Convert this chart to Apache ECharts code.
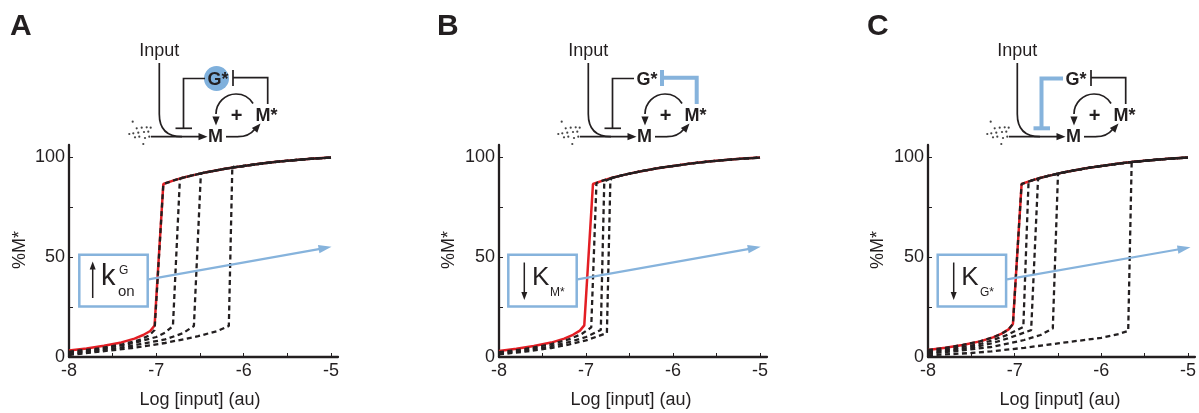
<!DOCTYPE html>
<html><head><meta charset="utf-8">
<script src="https://cdn.jsdelivr.net/npm/echarts@6/dist/echarts.min.js"></script>
<style>html,body{margin:0;padding:0;background:#fff}#c{width:1199px;height:413px}</style>
</head><body><div id="c"></div>
<script>
// ---------- data ----------
const xTickLabels = [-8, -7, -6, -5];
const yTickLabels = [0, 50, 100];
const panelLetters = ['A', 'B', 'C'];
const xTitle = 'Log [input] (au)';
const yTitle = '%M*';

// shared upper (high M*) branch
const upperBranch = [[-6.92,86.5],[-6.8,88.3],[-6.7,89.6],[-6.6,90.7],[-6.5,91.7],[-6.4,92.6],[-6.3,93.4],[-6.2,94.2],[-6.1,94.9],[-6.0,95.5],[-5.8,96.7],[-5.6,97.7],[-5.4,98.5],[-5.2,99.2],[-5.0,99.7]];

// Panel A (increase k_on^G)
const redA_low = [[-8,3.3],[-7.8,4.3],[-7.6,5.6],[-7.4,7.3],[-7.25,9.2],[-7.15,11],[-7.07,13],[-7.02,15.8]];
const redA_top = [-6.92,86.5];
const dA1_low = [[-8,2.7],[-7.7,4.0],[-7.4,6.2],[-7.2,8.4],[-7.08,10.8],[-7.02,13.5]];
const dA1_top = [-6.92,86.5];
const dA2_low = [[-8,2.0],[-7.66,3.8],[-7.28,6.8],[-7.0,10.0],[-6.9,12.2],[-6.81,15.5]];
const dA2_top = [-6.73,89.2];
const dA3_low = [[-8,1.5],[-7.66,3.2],[-7.28,5.6],[-6.9,8.8],[-6.7,11.8],[-6.57,15.5]];
const dA3_top = [-6.49,91.8];
const dA4_low = [[-8,1.0],[-7.67,2.6],[-7.28,4.5],[-6.9,7.0],[-6.52,10.4],[-6.3,13.0],[-6.17,15.5]];
const dA4_top = [-6.13,95.2];

// Panel B (decrease K_M*)
const redB_low = [[-8,3.0],[-7.8,4.1],[-7.6,5.5],[-7.4,7.2],[-7.25,9.2],[-7.15,11.1],[-7.07,13.2],[-7.02,15.8]];
const redB_top = [-6.92,86.5];
const dB1_low = [[-8,2.4],[-7.7,4.0],[-7.4,6.4],[-7.2,8.8],[-7.05,11.5],[-6.94,14.8]];
const dB1_top = [-6.88,87.0];
const dB2_low = [[-8,1.8],[-7.7,3.3],[-7.4,5.4],[-7.2,7.4],[-7.0,10.0],[-6.83,13.5]];
const dB2_top = [-6.79,87.8];
const dB3_low = [[-8,1.3],[-7.7,2.7],[-7.4,4.5],[-7.2,6.2],[-7.0,8.3],[-6.76,12.0]];
const dB3_top = [-6.72,88.5];

// Panel C (decrease K_G*)
const redC_low = [[-8,3.5],[-7.8,4.6],[-7.6,6.0],[-7.4,7.8],[-7.25,9.8],[-7.15,11.7],[-7.07,13.8],[-7.02,16.5]];
const redC_top = [-6.92,86.5];
const dC1_low = [[-8,2.8],[-7.7,4.3],[-7.4,6.5],[-7.27,8.2],[-7.1,10.8],[-6.9,15.0]];
const dC1_top = [-6.84,87.5];
const dC2_low = [[-8,2.2],[-7.7,3.5],[-7.4,5.5],[-7.27,6.8],[-7.08,9.3],[-6.81,13.4]];
const dC2_top = [-6.73,89.2];
const dC3_low = [[-8,1.6],[-7.65,3.1],[-7.27,5.0],[-6.89,8.5],[-6.7,11.0],[-6.56,14.3]];
const dC3_top = [-6.5,91.7];
const dC4_low = [[-8,0.8],[-7.5,2.0],[-7.27,2.8],[-6.89,4.6],[-6.5,6.8],[-6.0,9.6],[-5.8,11.5],[-5.69,13.0]];
const dC4_top = [-5.65,97.5];

// ---------- build ----------
const K = '#231f20', RED = '#e31e24', BL = '#86b3dc';
const FONT = '"Liberation Sans", Arial, Helvetica, sans-serif';
function curve(low, top) {
  return low.concat([top], upperBranch.filter(p => p[0] > top[0] + 1e-9));
}
const panels = [
  {left: 69, width: 269, red: curve(redA_low, redA_top), dashed: [curve(dA1_low,dA1_top), curve(dA2_low,dA2_top), curve(dA3_low,dA3_top), curve(dA4_low,dA4_top)]},
  {left: 499, width: 268, red: curve(redB_low, redB_top), dashed: [curve(dB1_low,dB1_top), curve(dB2_low,dB2_top), curve(dB3_low,dB3_top)]},
  {left: 928, width: 268, red: curve(redC_low, redC_top), dashed: [curve(redC_low,redC_top), curve(dC1_low,dC1_top), curve(dC2_low,dC2_top), curve(dC3_low,dC3_top), curve(dC4_low,dC4_top)]}
];

const grid = [], xAxis = [], yAxis = [], series = [];
panels.forEach((p, i) => {
  grid.push({left: p.left, top: 145, width: p.width, height: 212});
  xAxis.push({gridIndex: i, type: 'value', min: -8, max: -4.92,
    axisLine: {lineStyle: {color: K, width: 2.3}},
    axisTick: {inside: true, length: 4, lineStyle: {color: K, width: 1}, customValues: [-8,-7.5,-7,-6.5,-6,-5.5,-5]},
    axisLabel: {customValues: xTickLabels, fontSize: 18, color: K, fontFamily: FONT, margin: 5},
    splitLine: {show: false}});
  yAxis.push({gridIndex: i, type: 'value', min: 0, max: 106,
    axisLine: {show: true, lineStyle: {color: K, width: 2.3}},
    axisTick: {show: true, inside: true, length: 4, lineStyle: {color: K, width: 1}, customValues: [0,25,50,75,100]},
    axisLabel: {customValues: yTickLabels, fontSize: 18, color: K, fontFamily: FONT, margin: 4},
    splitLine: {show: false}});
  series.push({type: 'line', xAxisIndex: i, yAxisIndex: i, data: p.red, showSymbol: false, symbol: 'none',
    lineStyle: {color: RED, width: 2.5}, z: 2});
  p.dashed.forEach(d => series.push({type: 'line', xAxisIndex: i, yAxisIndex: i, data: d, showSymbol: false, symbol: 'none',
    lineStyle: {color: K, width: 2.3, type: [5, 3.5]}, z: 3}));
});

// ---------- annotations ----------
const G = [];
function txt(x, y, text, size, opts) {
  opts = opts || {};
  return {type: 'text', x: x, y: y, rotation: opts.rot || 0, z: 100,
    style: {text: text, font: (opts.bold ? 'bold ' : '') + size + 'px ' + FONT, fill: opts.fill || K,
      align: opts.align || 'center', verticalAlign: opts.va || 'middle'}};
}
function ln(x1, y1, x2, y2, color, w) {
  return {type: 'line', z: 100, shape: {x1, y1, x2, y2}, style: {stroke: color || K, lineWidth: w || 1.7}};
}
function bz(x1, y1, cx, cy, x2, y2, color, w) {
  return {type: 'bezierCurve', z: 100, shape: {x1, y1, x2, y2, cpx1: cx, cpy1: cy}, style: {stroke: color || K, lineWidth: w || 1.7, fill: null}};
}
function pl(points, color, w) {
  return {type: 'polyline', z: 100, shape: {points}, style: {stroke: color || K, lineWidth: w || 1.7, fill: null}};
}
function head(tx, ty, ang, len, hw, color) {
  const c = Math.cos(ang), s = Math.sin(ang);
  const bx = tx - c * len, by = ty - s * len;
  return {type: 'polygon', z: 101, shape: {points: [[tx, ty], [bx - s * hw, by + c * hw], [bx + s * hw, by - c * hw]]}, style: {fill: color || K}};
}
const dots = [[132.7,121.7],[136.7,128.3],[141.7,127.7],[146.7,127.3],[150.7,127.7],[129.3,134],[133.3,133.3],[138.3,132.7],[144,132],[148.3,131.7],[135,137.3],[139.3,136.7],[145,138],[149.3,136.7],[143.3,144]];

function diagram(ox, variant) {
  G.push(txt(ox + 159.3, 51, 'Input', 18));
  G.push(ln(ox + 159.3, 63, ox + 159.3, 114));
  G.push(bz(ox + 159.3, 114, ox + 159.3, 136.7, ox + 182, 136.7));
  G.push(ln(ox + 151, 136.7, ox + 201, 136.7));
  G.push(head(ox + 207.5, 136.7, 0, 9, 3.6));
  dots.forEach(d => G.push({type: 'circle', z: 100, shape: {cx: ox + d[0], cy: d[1], r: 1.1}, style: {fill: '#444'}}));
  G.push(txt(ox + 215.5, 137, 'M', 18, {bold: true}));
  G.push(txt(ox + 266.5, 116.5, 'M*', 18, {bold: true}));
  G.push(txt(ox + 236.7, 116.5, '+', 20, {bold: true}));
  // M -> M*
  G.push(ln(ox + 226, 136.7, ox + 238, 136.7));
  G.push(bz(ox + 238, 136.7, ox + 249, 136.7, ox + 255, 129));
  G.push(head(ox + 260.5, 123.5, -0.85, 9, 3.6));
  // M* -> M arc
  G.push({type: 'arc', z: 100, shape: {cx: ox + 236, cy: 114, r: 20, startAngle: -Math.PI, endAngle: -0.55, clockwise: true}, style: {stroke: K, lineWidth: 1.7, fill: null}});
  G.push(head(ox + 216, 125.5, Math.PI / 2, 9, 3.6));
  // M* -| G*
  const fbC = variant === 'B' ? BL : K, fbW = variant === 'B' ? 4 : 1.7;
  G.push(pl([[ox + 267.7, 104], [ox + 267.7, 77.7], [ox + 233, 77.7]], fbC, fbW));
  G.push(ln(ox + 233, 70, ox + 233, 86, fbC, fbW));
  // G* -| M
  const gC = variant === 'C' ? BL : K, gW = variant === 'C' ? 4 : 1.7;
  G.push(pl([[ox + 205, 78.5], [ox + 183.5, 78.5], [ox + 183.5, 128.3]], gC, gW));
  G.push(ln(ox + 175.5, 128.3, ox + 192, 128.3, gC, gW));
  if (variant === 'A') G.push({type: 'circle', z: 99, shape: {cx: ox + 216.5, cy: 78.5, r: 12.5}, style: {fill: '#7fb0dc'}});
  G.push(txt(ox + 218, 80, 'G*', 18, {bold: true}));
}
diagram(0, 'A');
diagram(429, 'B');
diagram(858, 'C');

// panel letters and axis titles
[[10, 'A'], [437, 'B'], [867, 'C']].forEach((l, i) => G.push(txt(l[0], 27, panelLetters[i], 30, {bold: true, align: 'left'})));
[[200, 20], [631, 449], [1060, 878]].forEach(a => {
  G.push(txt(a[0], 400, xTitle, 18));
  G.push(txt(a[1], 250, yTitle, 18, {rot: Math.PI / 2}));
});

// inset boxes + callout arrows
function callout(bx, arrowUp, sx, sy, ex, ey) {
  G.push({type: 'rect', z: 100, shape: {x: bx, y: 254.8, width: 68.4, height: 51.7}, style: {stroke: BL, lineWidth: 2.5, fill: '#fff'}});
  const ax = bx + (arrowUp ? 13.4 : 16);
  if (arrowUp) { G.push(ln(ax, 298, ax, 268, K, 1.5)); G.push(head(ax, 261.5, -Math.PI / 2, 8, 3)); }
  else { G.push(ln(ax, 262.5, ax, 293, K, 1.5)); G.push(head(ax, 300, Math.PI / 2, 8, 3)); }
  const ang = Math.atan2(ey - sy, ex - sx);
  G.push(ln(sx, sy, ex - Math.cos(ang) * 10, ey - Math.sin(ang) * 10, BL, 2.2));
  G.push(head(ex, ey, ang, 13, 4.2, BL));
}
callout(79.3, true, 148.5, 279.3, 331.5, 246.8);
G.push(txt(101, 276.5, 'k', 29, {align: 'left'}));
G.push(txt(119, 270.8, 'G', 12, {align: 'left'}));
G.push(txt(118, 291.5, 'on', 15, {align: 'left'}));
callout(508.3, false, 577.5, 279.3, 760.7, 246.8);
G.push(txt(532, 277.6, 'K', 26, {align: 'left'}));
G.push(txt(550, 292.5, 'M*', 12, {align: 'left'}));
callout(937.7, false, 1007, 279.3, 1190.5, 247.3);
G.push(txt(961.3, 277.6, 'K', 26, {align: 'left'}));
G.push(txt(980, 292.5, 'G*', 12, {align: 'left'}));

const chart = echarts.init(document.getElementById('c'), null, {renderer: 'canvas'});
chart.setOption({animation: false, backgroundColor: '#fff', grid, xAxis, yAxis, series, graphic: G});
</script></body></html>
